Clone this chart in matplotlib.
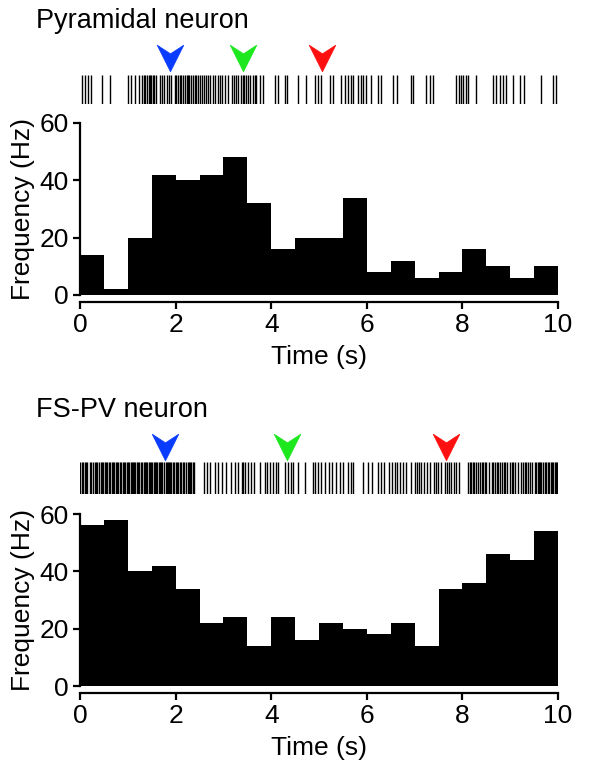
import numpy as np
import matplotlib.pyplot as plt
from matplotlib.path import Path
import matplotlib.transforms as mtransforms

plt.rcParams['font.family'] = ['Liberation Sans', 'DejaVu Sans']

# histogram values (Hz), 0.5 s bins from 0 to 10 s
bin_edges = np.arange(0, 10.5, 0.5)
pyr_freq = [14, 2, 20, 42, 40, 42, 48, 32, 16, 20, 20, 34, 8, 12, 6, 8, 16, 10, 6, 10]
fs_freq = [56, 58, 40, 42, 34, 22, 24, 14, 24, 16, 22, 20, 18, 22, 14, 34, 36, 46, 44, 54]

# spike times (s)
pyr_spikes = [0.04, 0.10, 0.17, 0.24, 0.45, 0.62, 1.00, 1.07, 1.16, 1.23, 1.30, 1.33,
              1.36, 1.40, 1.44, 1.47, 1.49, 1.52, 1.55, 1.58, 1.67, 1.71, 1.76, 1.81,
              1.86, 1.91, 1.98, 2.01, 2.05, 2.09, 2.12, 2.16, 2.19, 2.23, 2.26, 2.29,
              2.33, 2.36, 2.40, 2.43, 2.47, 2.51, 2.55, 2.59, 2.63, 2.68, 2.72, 2.78,
              2.83, 2.89, 2.93, 2.97, 3.04, 3.10, 3.17, 3.22, 3.27, 3.31, 3.37, 3.40,
              3.44, 3.48, 3.52, 3.56, 3.62, 3.66, 3.69, 3.76, 3.83, 4.07, 4.14, 4.28,
              4.33, 4.56, 4.73, 4.91, 4.98, 5.05, 5.22, 5.29, 5.47, 5.54, 5.61, 5.67,
              5.71, 5.82, 5.87, 5.92, 5.99, 6.09, 6.23, 6.30, 6.55, 6.64, 6.93, 6.97,
              7.24, 7.32, 7.38, 7.87, 7.92, 7.97, 8.02, 8.07, 8.12, 8.29, 8.64, 8.71,
              8.78, 8.85, 8.92, 9.06, 9.20, 9.29, 9.65, 9.90, 9.96]
fs_spikes = [0.01, 0.04, 0.07, 0.10, 0.13, 0.15, 0.20, 0.24, 0.27, 0.31, 0.34, 0.36,
             0.39, 0.43, 0.46, 0.48, 0.52, 0.55, 0.57, 0.60, 0.62, 0.66, 0.69, 0.71,
             0.75, 0.78, 0.80, 0.83, 0.85, 0.90, 0.93, 0.95, 0.98, 1.00, 1.03, 1.06,
             1.09, 1.11, 1.14, 1.16, 1.19, 1.21, 1.24, 1.27, 1.30, 1.33, 1.35, 1.38,
             1.41, 1.44, 1.46, 1.49, 1.51, 1.54, 1.56, 1.59, 1.62, 1.65, 1.67, 1.70,
             1.72, 1.76, 1.79, 1.81, 1.84, 1.86, 1.89, 1.91, 1.94, 1.97, 2.00, 2.02,
             2.06, 2.09, 2.12, 2.15, 2.18, 2.22, 2.25, 2.27, 2.30, 2.33, 2.36, 2.38,
             2.59, 2.66, 2.73, 2.82, 2.89, 2.97, 3.06, 3.15, 3.24, 3.31, 3.38, 3.41,
             3.46, 3.51, 3.57, 3.64, 3.76, 3.86, 3.92, 3.97, 4.04, 4.09, 4.14, 4.28,
             4.35, 4.41, 4.46, 4.56, 4.70, 4.87, 4.92, 4.98, 5.05, 5.13, 5.20, 5.27,
             5.36, 5.43, 5.50, 5.61, 5.66, 5.71, 5.92, 6.02, 6.10, 6.23, 6.30, 6.37,
             6.46, 6.53, 6.60, 6.63, 6.69, 6.76, 6.83, 6.93, 7.00, 7.05, 7.10, 7.14,
             7.20, 7.25, 7.32, 7.40, 7.45, 7.49, 7.56, 7.63, 7.68, 7.73, 7.77, 7.82,
             7.86, 7.92, 8.12, 8.15, 8.19, 8.22, 8.24, 8.29, 8.33, 8.36, 8.40, 8.43,
             8.47, 8.50, 8.56, 8.61, 8.65, 8.68, 8.72, 8.75, 8.79, 8.82, 8.86, 8.89,
             8.94, 8.99, 9.03, 9.06, 9.11, 9.16, 9.22, 9.27, 9.31, 9.34, 9.38, 9.41,
             9.45, 9.51, 9.55, 9.58, 9.60, 9.63, 9.65, 9.69, 9.72, 9.75, 9.79, 9.82,
             9.85, 9.88, 9.90, 9.93, 9.95, 9.97, 9.99]

# stimulus arrow times (s): blue, green, red
arrow_colors = ['#0a3cff', '#1de81d', '#ff1010']
pyr_arrows = [1.88, 3.41, 5.06]
fs_arrows = [1.78, 4.33, 7.66]

arrow_marker = Path([(-1, 1), (0, -1), (1, 1), (0, 0.35), (-1, 1)],
                    [Path.MOVETO, Path.LINETO, Path.LINETO, Path.LINETO, Path.CLOSEPOLY])

fig = plt.figure(figsize=(6, 7.66), dpi=100)
W, H = 600, 766


def px_axes(x0, y_top, x1, y_bot):
    return fig.add_axes([x0 / W, 1 - y_bot / H, (x1 - x0) / W, (y_bot - y_top) / H])


def raster(ax, spikes, arrows, arrow_y):
    ax.eventplot(spikes, lineoffsets=0.5, linelengths=1, colors='black', linewidths=1.0)
    ax.set_xlim(0, 10)
    ax.set_ylim(0, 1)
    ax.axis('off')
    trans = mtransforms.blended_transform_factory(ax.transData, ax.transAxes)
    for t, c in zip(arrows, arrow_colors):
        ax.plot(t, arrow_y, marker=arrow_marker, markersize=19, color=c,
                markeredgecolor=c, markeredgewidth=0.6,
                transform=trans, clip_on=False, linestyle='none')


def histo(ax, freq):
    ax.bar(bin_edges[:-1], freq, width=0.5, align='edge', color='black', linewidth=0)
    ax.set_xlim(0, 10)
    ax.set_ylim(0, 60)
    ax.set_xticks([0, 2, 4, 6, 8, 10])
    ax.set_yticks([0, 20, 40, 60])
    for s in ['top', 'right']:
        ax.spines[s].set_visible(False)
    for s in ['left', 'bottom']:
        ax.spines[s].set_linewidth(1.6)
    ax.spines['bottom'].set_position(('outward', 5))
    ax.tick_params(width=1.6, length=5, labelsize=19, pad=3)
    ax.set_xlabel('Time (s)', fontsize=19, labelpad=6)
    ax.set_ylabel('Frequency (Hz)', fontsize=19, labelpad=3)


# pyramidal neuron
fig.text(36 / W, 1 - 21 / H, 'Pyramidal neuron', fontsize=19.5, va='center', ha='left')
ax1r = px_axes(80, 75, 558, 104)
raster(ax1r, pyr_spikes, pyr_arrows, 1.6)
ax1 = px_axes(80, 123, 558, 295)
histo(ax1, pyr_freq)

# FS-PV neuron
fig.text(36 / W, 1 - 410 / H, 'FS-PV neuron', fontsize=19.5, va='center', ha='left')
ax2r = px_axes(80, 462, 558, 494)
raster(ax2r, fs_spikes, fs_arrows, 1.47)
ax2 = px_axes(80, 514, 558, 686)
histo(ax2, fs_freq)

fig.savefig('out.png', dpi=100)
